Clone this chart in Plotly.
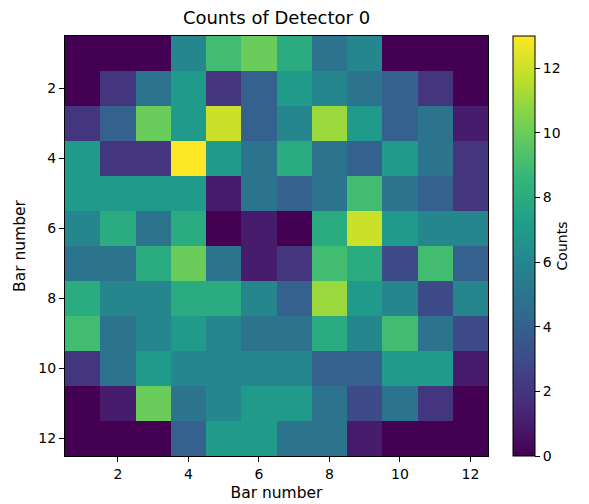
import plotly.graph_objects as go

# Bar indices along each axis
bars_x = list(range(1, 13))
bars_y = list(range(1, 13))

# Counts per (row, column) cell of detector 0
counts = [
    [0, 0, 0, 6, 9, 10, 8, 5, 6, 0, 0, 0],
    [0, 2, 5, 7, 2, 4, 7, 6, 5, 4, 2, 0],
    [2, 4, 10, 7, 12, 4, 6, 11, 7, 4, 5, 1],
    [7, 2, 2, 13, 7, 5, 8, 5, 4, 7, 5, 2],
    [7, 7, 7, 7, 1, 5, 4, 5, 9, 5, 4, 2],
    [6, 8, 5, 8, 0, 1, 0, 8, 12, 7, 6, 6],
    [5, 5, 8, 10, 5, 1, 2, 9, 8, 3, 9, 4],
    [8, 6, 6, 8, 8, 6, 4, 11, 7, 6, 3, 6],
    [9, 5, 6, 7, 6, 5, 5, 8, 6, 9, 5, 3],
    [2, 5, 7, 6, 6, 6, 6, 4, 4, 7, 7, 1],
    [0, 1, 10, 5, 6, 7, 7, 5, 3, 5, 2, 0],
    [0, 0, 0, 4, 7, 7, 5, 5, 1, 0, 0, 0],
]

font_family = "DejaVu Sans"

fig = go.Figure(
    go.Heatmap(
        x=bars_x,
        y=bars_y,
        z=counts,
        colorscale="Viridis",
        zmin=0,
        zmax=13,
        colorbar=dict(
            title=dict(text="Counts", side="right", font=dict(size=14, color="black")),
            tickvals=[0, 2, 4, 6, 8, 10, 12],
            ticks="outside",
            ticklen=5,
            tickcolor="black",
            tickfont=dict(size=14, color="black"),
            thickness=22,
            len=1.0,
            lenmode="fraction",
            x=(513 - 65) / 423,
            xanchor="left",
            xpad=0,
            y=0.5,
            yanchor="middle",
            ypad=0,
            outlinewidth=1,
            outlinecolor="black",
        ),
    )
)

axis_common = dict(
    showgrid=False,
    zeroline=False,
    showline=True,
    linecolor="black",
    linewidth=1,
    mirror=True,
    ticks="outside",
    ticklen=5,
    tickcolor="black",
    tickfont=dict(size=14, color="black"),
    tickvals=[2, 4, 6, 8, 10, 12],
    automargin=False,
)

fig.update_layout(
    width=589,
    height=504,
    margin=dict(l=65, r=101, t=36, b=48, autoexpand=False),
    paper_bgcolor="white",
    plot_bgcolor="white",
    font=dict(family=font_family, color="black"),
    title=dict(
        text="Counts of Detector 0",
        x=(65 + 488) / 2 / 589,
        xanchor="center",
        y=1 - 18 / 504,
        yanchor="middle",
        font=dict(size=18, color="black"),
    ),
    xaxis=dict(
        axis_common,
        range=[0.5, 12.5],
        title=dict(text="Bar number", font=dict(size=15.5), standoff=6),
    ),
    yaxis=dict(
        axis_common,
        range=[12.5, 0.5],
        title=dict(text="Bar number", font=dict(size=15.5), standoff=8),
    ),
)

fig.write_html("out.html")
